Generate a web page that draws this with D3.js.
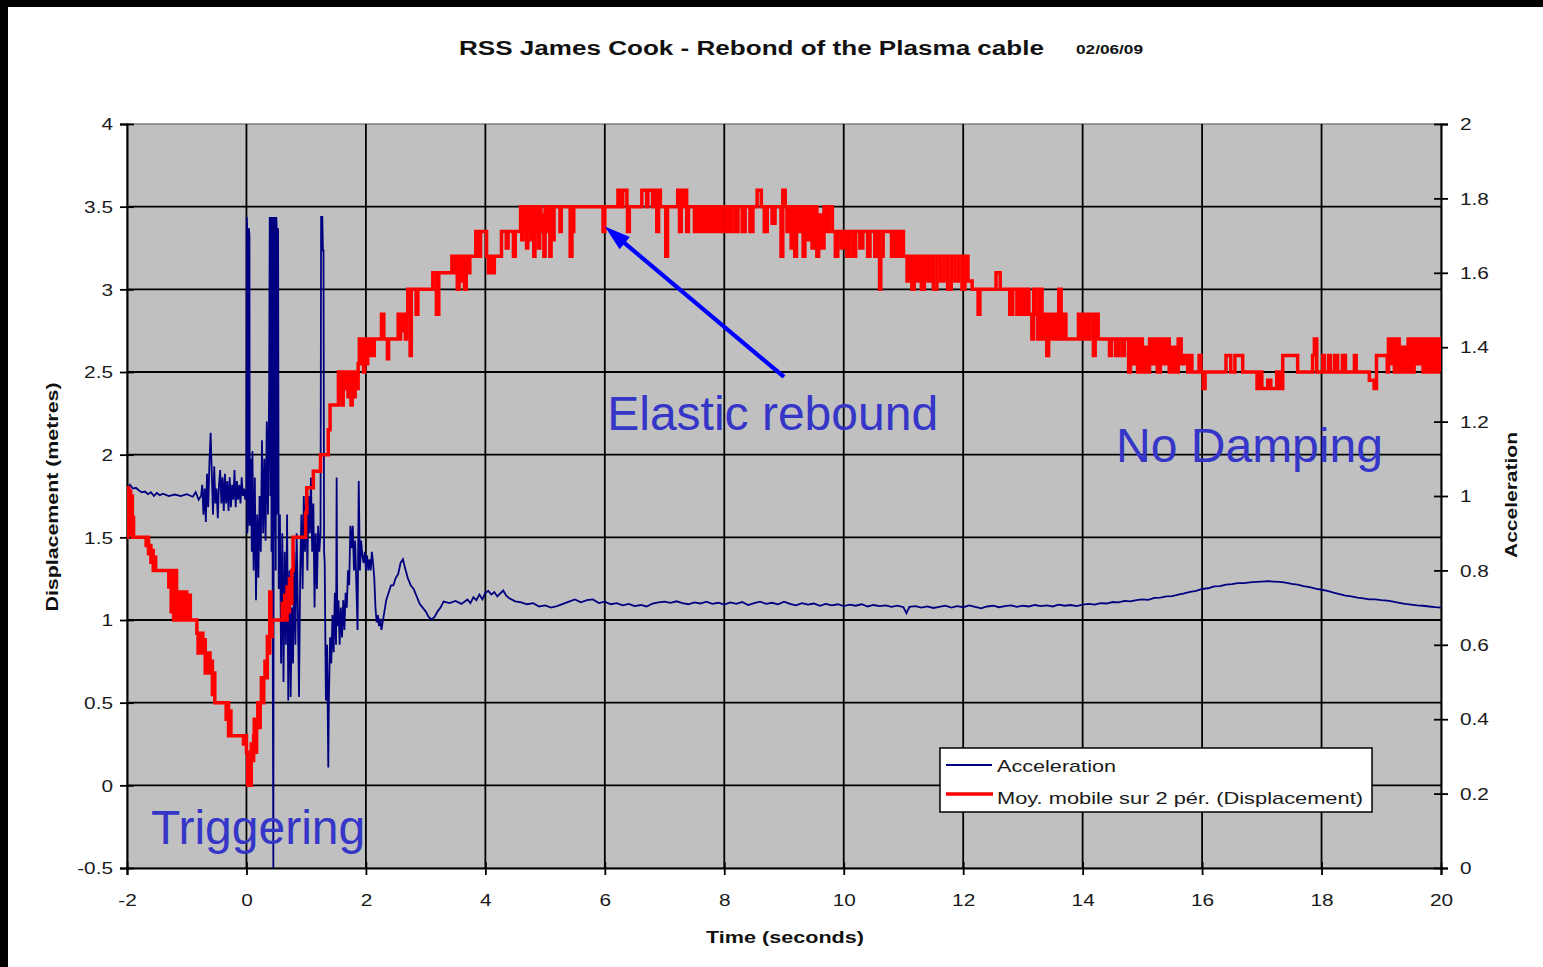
<!DOCTYPE html>
<html>
<head>
<meta charset="utf-8">
<script src="https://cdn.jsdelivr.net/npm/d3@7"></script>
<style>
  html, body { margin: 0; padding: 0; background: #fff; }
  svg { display: block; }
  text { font-family: Arial, "Liberation Sans", sans-serif; }
</style>
</head>
<body>
<svg id="chart" width="1543" height="967"></svg>
<script>
// ---- axis ticks ----
const timeTicks = [-2, 0, 2, 4, 6, 8, 10, 12, 14, 16, 18, 20];
const dispTicks = [-0.5, 0, 0.5, 1, 1.5, 2, 2.5, 3, 3.5, 4];
const accTicks = [0, 0.2, 0.4, 0.6, 0.8, 1, 1.2, 1.4, 1.6, 1.8, 2];
const accTickLabels = ["0", "0.2", "0.4", "0.6", "0.8", "1", "1.2", "1.4", "1.6", "1.8", "2"];

// ---- acceleration record [time s, acceleration] ----
const acceleration = [
  [-2.00,0.97],[-1.99,1.02],[-1.95,1.03],[-1.90,1.02],[-1.85,1.022],[-1.80,1.015],[-1.75,1.01],[-1.70,1.012],
  [-1.65,1.005],[-1.60,1.01],[-1.55,1.0],[-1.50,1.008],[-1.45,1.002],[-1.40,1.006],[-1.30,1.0],[-1.20,1.004],
  [-1.10,1.0],[-1.00,1.005],[-0.90,0.998],[-0.85,1.01],[-0.80,0.99],[-0.76,1.0],
  [-0.74,1.03],[-0.72,0.95],[-0.70,1.02],[-0.68,0.93],[-0.66,1.06],[-0.64,0.97],[-0.62,1.09],[-0.60,1.17],
  [-0.58,1.06],[-0.56,0.95],[-0.54,1.08],[-0.52,0.98],[-0.50,1.02],[-0.48,0.94],[-0.46,1.03],[-0.44,1.07],
  [-0.42,0.98],[-0.40,1.05],[-0.38,0.96],[-0.36,1.06],[-0.34,0.98],[-0.32,1.04],[-0.30,0.96],[-0.28,1.05],
  [-0.26,0.97],[-0.24,1.03],[-0.22,0.99],[-0.20,1.07],[-0.18,0.97],[-0.16,1.04],[-0.14,0.99],[-0.12,1.03],
  [-0.10,0.98],[-0.08,1.05],[-0.06,1.0],[-0.04,1.02],[-0.02,0.99],[0.00,1.02],
  [0.005,1.75],[0.01,1.73],[0.015,0.90],[0.03,0.95],[0.04,1.72],[0.05,1.70],[0.055,0.92],[0.07,1.10],
  [0.09,0.85],[0.10,1.12],[0.12,0.80],[0.14,1.05],[0.16,0.72],[0.18,0.95],[0.20,0.78],[0.22,1.00],
  [0.24,0.85],[0.26,1.15],[0.28,0.90],[0.30,1.10],[0.32,0.88],[0.34,1.20],[0.36,0.95],[0.38,1.30],
  [0.39,1.75],[0.40,1.00],[0.41,1.75],[0.42,0.85],[0.43,1.75],[0.44,0.60],[0.45,0.00],[0.455,0.80],
  [0.46,1.75],[0.47,0.90],[0.48,1.75],[0.49,0.80],[0.50,1.75],[0.51,1.70],[0.52,0.95],[0.53,1.72],
  [0.54,0.75],[0.56,0.95],[0.58,0.55],[0.60,0.90],[0.62,0.50],[0.64,0.85],[0.66,0.60],[0.68,0.95],
  [0.70,0.45],[0.72,0.80],[0.74,0.46],[0.76,0.70],[0.78,0.55],[0.80,0.85],[0.82,0.60],[0.84,0.90],
  [0.86,0.70],[0.88,0.46],[0.90,0.80],[0.92,0.95],[0.94,0.75],[0.96,1.00],[0.98,0.85],[1.00,1.02],
  [1.02,0.80],[1.04,1.00],[1.06,0.90],[1.08,1.05],[1.10,0.85],[1.12,0.98],[1.14,0.70],[1.16,0.90],
  [1.18,0.75],[1.20,0.92],[1.22,0.85],[1.24,0.90],[1.25,1.75],[1.27,1.75],[1.28,1.66],[1.29,1.66],
  [1.30,0.85],[1.31,0.82],[1.33,0.45],[1.35,0.60],[1.37,0.27],[1.38,0.45],[1.40,0.62],[1.42,0.55],
  [1.44,0.68],[1.46,0.58],[1.48,0.74],[1.50,0.60],[1.51,1.05],[1.52,0.65],[1.54,0.72],[1.56,0.60],
  [1.58,0.70],[1.60,0.62],[1.62,0.72],[1.64,0.64],[1.66,0.74],[1.68,0.70],[1.70,0.80],[1.72,0.76],
  [1.74,0.92],[1.76,0.86],[1.78,0.92],[1.80,0.80],[1.82,0.88],[1.84,0.76],[1.86,0.64],[1.88,1.04],
  [1.90,0.80],[1.92,0.88],[1.94,0.84],[1.96,0.82],[1.98,0.85],[2.00,0.80],[2.02,0.84],[2.04,0.80],
  [2.06,0.83],[2.08,0.80],[2.10,0.85],[2.12,0.82],[2.14,0.78],[2.16,0.70],[2.18,0.66],[2.20,0.68],
  [2.22,0.65],[2.24,0.67],[2.26,0.64],[2.28,0.66],[2.30,0.68],[2.34,0.72],[2.38,0.74],[2.42,0.76],
  [2.46,0.76],[2.50,0.78],[2.54,0.79],[2.58,0.82],[2.62,0.83],[2.65,0.81],[2.70,0.78],[2.75,0.76],
  [2.80,0.75],[2.85,0.73],[2.90,0.71],[2.95,0.70],[3.00,0.69],[3.05,0.675],[3.10,0.668],[3.15,0.675],
  [3.20,0.69],[3.25,0.70],[3.30,0.716],[3.40,0.712],[3.50,0.718],[3.60,0.71],[3.70,0.722],[3.75,0.712],
  [3.80,0.728],[3.85,0.72],[3.90,0.735],[3.95,0.722],[4.00,0.74],[4.05,0.745],[4.10,0.735],[4.15,0.742],
  [4.20,0.73],[4.25,0.738],[4.30,0.746],[4.35,0.732],[4.40,0.725],[4.50,0.717],[4.60,0.714],[4.70,0.709],
  [4.80,0.712],[4.90,0.703],[5.00,0.706],[5.10,0.70],[5.20,0.704],[5.30,0.71],[5.40,0.716],[5.50,0.722],
  [5.60,0.714],[5.70,0.72],[5.80,0.722],[5.90,0.712],[6.00,0.716],[6.10,0.709],[6.20,0.712],[6.30,0.706],
  [6.40,0.71],[6.50,0.704],[6.60,0.707],[6.70,0.703],[6.80,0.711],[6.90,0.714],[7.00,0.716],[7.10,0.713],
  [7.20,0.717],[7.30,0.712],[7.40,0.709],[7.50,0.714],[7.60,0.711],[7.70,0.716],[7.80,0.71],[7.90,0.713],
  [8.00,0.708],[8.10,0.714],[8.20,0.71],[8.30,0.715],[8.40,0.707],[8.50,0.712],[8.60,0.716],[8.70,0.71],
  [8.80,0.713],[8.90,0.709],[9.00,0.716],[9.10,0.71],[9.20,0.706],[9.30,0.712],[9.40,0.708],[9.50,0.711],
  [9.60,0.705],[9.70,0.71],[9.80,0.706],[9.90,0.709],[10.0,0.704],[10.1,0.708],[10.2,0.705],[10.3,0.709],
  [10.4,0.703],[10.5,0.707],[10.6,0.704],[10.7,0.706],[10.8,0.702],[10.9,0.705],[11.0,0.701],[11.05,0.685],
  [11.1,0.702],[11.2,0.704],[11.3,0.70],[11.4,0.703],[11.5,0.699],[11.6,0.702],[11.7,0.705],[11.8,0.70],
  [11.9,0.704],[12.0,0.701],[12.1,0.706],[12.2,0.702],[12.3,0.698],[12.4,0.703],[12.5,0.705],[12.6,0.701],
  [12.7,0.704],[12.8,0.706],[12.9,0.702],[13.0,0.705],[13.1,0.703],[13.2,0.707],[13.3,0.704],[13.4,0.706],
  [13.5,0.703],[13.6,0.708],[13.7,0.705],[13.8,0.707],[13.9,0.704],[14.0,0.708],[14.1,0.71],[14.2,0.708],
  [14.3,0.712],[14.4,0.711],[14.5,0.715],[14.6,0.714],[14.7,0.718],[14.8,0.717],[14.9,0.72],[15.0,0.722],
  [15.1,0.721],[15.2,0.726],[15.3,0.727],[15.4,0.73],[15.5,0.731],[15.6,0.735],[15.7,0.738],[15.8,0.742],
  [15.9,0.745],[16.0,0.75],[16.1,0.752],[16.2,0.757],[16.3,0.758],[16.4,0.762],[16.5,0.763],[16.6,0.766],
  [16.7,0.766],[16.8,0.768],[16.9,0.769],[17.0,0.77],[17.1,0.771],[17.2,0.77],[17.3,0.769],[17.4,0.767],
  [17.5,0.764],[17.6,0.762],[17.7,0.758],[17.8,0.755],[17.9,0.751],[18.0,0.748],[18.1,0.745],[18.2,0.74],
  [18.3,0.736],[18.4,0.732],[18.5,0.73],[18.6,0.727],[18.7,0.725],[18.8,0.722],[18.9,0.722],[19.0,0.72],
  [19.1,0.719],[19.2,0.716],[19.3,0.713],[19.4,0.71],[19.5,0.708],[19.6,0.706],[19.7,0.705],[19.8,0.703],
  [19.9,0.701],[20.0,0.70]
];

// ---- displacement, 2-period moving average [time s, metres]; value holds until next point ----
const displacement = [
  [-2.00,1.50],[-1.99,1.80],[-1.97,1.55],[-1.96,1.78],[-1.94,1.52],[-1.93,1.75],[-1.91,1.50],[-1.90,1.62],[-1.89,1.50],
  [-1.68,1.45],[-1.66,1.50],[-1.64,1.40],[-1.62,1.45],[-1.60,1.35],[-1.58,1.42],[-1.56,1.30],[-1.54,1.38],[-1.52,1.30],
  [-1.30,1.20],[-1.28,1.30],[-1.26,1.05],[-1.24,1.30],[-1.22,1.00],[-1.20,1.30],[-1.17,1.00],[-1.15,1.17],
  [-1.12,1.00],[-1.10,1.17],[-1.07,1.00],[-1.03,1.17],[-1.00,1.00],[-0.97,1.15],[-0.94,1.00],
  [-0.83,0.92],[-0.81,0.80],[-0.79,0.92],[-0.77,0.80],[-0.75,0.92],[-0.73,0.80],[-0.71,0.88],[-0.69,0.68],
  [-0.67,0.80],[-0.65,0.68],[-0.63,0.80],[-0.61,0.68],[-0.59,0.75],[-0.57,0.55],[-0.55,0.68],[-0.53,0.50],
  [-0.34,0.40],[-0.32,0.50],[-0.30,0.30],[-0.28,0.45],[-0.26,0.30],
  [-0.05,0.25],[-0.02,0.30],[0.00,0.20],[0.02,0.00],[0.04,0.15],[0.06,0.00],[0.08,0.25],[0.10,0.15],[0.12,0.30],
  [0.13,0.40],[0.15,0.20],[0.17,0.35],[0.19,0.50],[0.21,0.35],[0.23,0.50],[0.25,0.65],[0.27,0.50],
  [0.29,0.65],[0.31,0.75],[0.33,0.65],[0.35,0.90],[0.37,0.80],[0.39,1.17],[0.41,0.90],[0.43,1.00],
  [0.60,1.10],[0.62,1.00],[0.64,1.15],[0.66,1.00],[0.68,1.20],[0.70,1.05],[0.72,1.25],[0.74,1.10],[0.76,1.30],[0.78,1.50],
  [0.99,1.65],[1.01,1.80],[1.12,1.90],[1.24,2.00],[1.37,2.15],[1.40,2.30],
  [1.54,2.50],[1.56,2.35],[1.58,2.50],[1.60,2.30],[1.62,2.50],[1.65,2.40],[1.67,2.50],[1.70,2.35],
  [1.72,2.50],[1.75,2.30],[1.77,2.50],[1.80,2.35],[1.82,2.50],[1.85,2.40],
  [1.87,2.55],[1.89,2.70],[1.91,2.55],[1.94,2.70],[1.96,2.50],[1.98,2.70],[2.01,2.55],[2.03,2.70],
  [2.06,2.60],[2.08,2.70],[2.12,2.60],[2.14,2.70],[2.26,2.85],[2.30,2.70],[2.36,2.58],[2.38,2.70],
  [2.54,2.85],[2.56,2.70],[2.58,2.85],[2.61,2.75],[2.63,2.85],[2.66,2.70],[2.68,2.85],[2.70,3.00],
  [2.74,2.60],[2.76,3.00],[2.84,2.85],[2.87,3.00],[3.12,3.10],[3.18,2.85],[3.22,3.10],
  [3.44,3.20],[3.47,3.10],[3.50,3.20],[3.53,3.00],[3.56,3.20],[3.59,3.05],[3.62,3.20],[3.65,3.00],
  [3.68,3.20],[3.71,3.10],[3.74,3.20],[3.84,3.35],[3.88,3.20],[3.92,3.35],[4.02,3.20],[4.05,3.10],
  [4.08,3.20],[4.12,3.10],[4.15,3.20],[4.27,3.35],[4.35,3.25],[4.38,3.35],[4.47,3.20],[4.50,3.35],
  [4.59,3.50],[4.61,3.30],[4.63,3.50],[4.65,3.35],[4.67,3.50],[4.69,3.25],[4.71,3.50],[4.73,3.35],
  [4.75,3.50],[4.77,3.30],[4.79,3.50],[4.81,3.20],[4.83,3.50],[4.85,3.35],[4.87,3.50],[4.89,3.25],
  [4.91,3.50],[4.93,3.35],[4.95,3.45],[4.98,3.20],[5.00,3.50],[5.03,3.35],[5.05,3.50],[5.08,3.20],
  [5.10,3.50],[5.13,3.30],[5.15,3.50],[5.25,3.35],[5.27,3.50],[5.42,3.20],[5.45,3.35],[5.48,3.50],
  [5.97,3.35],[6.00,3.50],[6.22,3.60],[6.27,3.50],[6.30,3.60],[6.37,3.50],[6.38,3.35],[6.41,3.50],
  [6.62,3.60],[6.70,3.50],[6.72,3.60],[6.80,3.50],[6.83,3.60],[6.87,3.35],[6.90,3.60],[6.93,3.50],
  [7.02,3.20],[7.05,3.50],[7.22,3.60],[7.25,3.35],[7.28,3.60],[7.31,3.50],[7.34,3.60],[7.37,3.35],
  [7.40,3.50],[7.50,3.35],[7.53,3.50],[7.56,3.35],[7.60,3.50],[7.65,3.35],[7.68,3.50],[7.72,3.35],
  [7.75,3.50],[7.80,3.35],[7.83,3.50],[7.88,3.35],[7.92,3.50],[7.97,3.35],[8.03,3.50],[8.08,3.35],
  [8.12,3.50],[8.18,3.35],[8.23,3.50],[8.30,3.35],[8.35,3.50],[8.43,3.35],[8.48,3.50],[8.55,3.60],
  [8.62,3.50],[8.67,3.35],[8.72,3.50],[8.80,3.40],[8.85,3.50],[8.95,3.20],[8.98,3.60],[9.02,3.50],
  [9.05,3.35],[9.08,3.50],[9.12,3.25],[9.15,3.50],[9.18,3.20],[9.21,3.50],[9.25,3.35],[9.28,3.50],
  [9.32,3.20],[9.35,3.50],[9.40,3.30],[9.43,3.50],[9.47,3.25],[9.50,3.50],[9.55,3.20],[9.58,3.45],
  [9.62,3.25],[9.67,3.50],[9.70,3.35],[9.75,3.50],[9.81,3.35],
  [9.86,3.20],[9.90,3.35],[9.96,3.25],[10.00,3.35],[10.05,3.20],[10.10,3.35],[10.16,3.20],[10.20,3.35],
  [10.27,3.25],[10.32,3.35],[10.40,3.20],[10.44,3.35],[10.52,3.20],[10.56,3.35],[10.60,3.00],[10.62,3.20],
  [10.66,3.35],[10.80,3.20],[10.85,3.35],[10.90,3.20],[10.95,3.35],[11.00,3.20],
  [11.06,3.05],[11.10,3.20],[11.14,3.00],[11.18,3.20],[11.22,3.05],[11.26,3.20],[11.30,3.00],[11.35,3.20],
  [11.40,3.05],[11.45,3.20],[11.50,3.00],[11.56,3.20],[11.62,3.05],[11.68,3.20],[11.74,3.00],[11.80,3.20],
  [11.86,3.05],[11.92,3.20],[11.98,3.00],[12.03,3.20],[12.08,3.05],[12.15,3.00],[12.25,2.85],[12.28,3.00],
  [12.55,3.10],[12.62,3.00],[12.78,2.85],[12.83,3.00],[12.90,2.85],[12.95,3.00],[13.00,2.85],[13.05,3.00],
  [13.10,2.85],[13.15,2.70],[13.18,3.00],[13.22,2.85],[13.25,2.70],[13.28,3.00],[13.32,2.70],[13.36,2.85],
  [13.40,2.60],[13.43,2.85],[13.47,2.70],[13.50,2.85],[13.55,2.70],[13.60,3.00],[13.64,2.70],[13.68,2.85],
  [13.72,2.70],[13.93,2.85],[13.98,2.70],[14.02,2.85],[14.07,2.70],[14.12,2.85],[14.18,2.60],[14.21,2.85],
  [14.26,2.70],[14.45,2.60],[14.48,2.70],[14.55,2.60],[14.60,2.70],[14.66,2.60],[14.70,2.70],
  [14.77,2.50],[14.80,2.70],[14.84,2.55],[14.88,2.70],[14.92,2.50],[14.96,2.70],[15.00,2.50],[15.04,2.65],
  [15.08,2.50],[15.12,2.70],[15.16,2.55],[15.20,2.70],[15.25,2.50],[15.30,2.70],[15.35,2.55],[15.40,2.70],
  [15.45,2.50],[15.50,2.65],[15.55,2.50],[15.60,2.70],[15.65,2.55],[15.70,2.60],[15.76,2.50],[15.80,2.60],
  [15.83,2.50],[15.95,2.60],[15.98,2.50],[16.02,2.40],[16.05,2.50],[16.40,2.60],[16.48,2.50],[16.55,2.60],
  [16.68,2.50],[16.92,2.40],[16.96,2.50],[17.00,2.40],[17.10,2.45],[17.15,2.40],[17.25,2.50],[17.30,2.40],
  [17.35,2.60],[17.60,2.50],[17.85,2.60],[17.88,2.70],[17.92,2.50],[18.02,2.60],[18.05,2.50],[18.12,2.60],
  [18.15,2.50],[18.22,2.60],[18.27,2.50],[18.35,2.60],[18.40,2.50],[18.55,2.60],[18.58,2.50],[18.80,2.45],
  [18.88,2.40],[18.92,2.60],[19.10,2.50],[19.12,2.70],[19.15,2.55],[19.18,2.70],[19.22,2.50],[19.26,2.70],
  [19.30,2.50],[19.35,2.65],[19.40,2.50],[19.45,2.70],[19.50,2.50],[19.55,2.70],[19.60,2.55],[19.65,2.70],
  [19.70,2.50],[19.75,2.70],[19.80,2.50],[19.85,2.70],[19.90,2.50],[19.95,2.70],[20.00,2.50]
];

// ---- annotations ----
const notes = [
  { text: "Elastic rebound", t: 6.04, d: 2.149 },
  { text: "No Damping", t: 14.56, d: 1.956 },
  { text: "Triggering", t: -1.6, d: -0.355 }
];
const arrowFrom = [9.0, 2.47];
const arrowTo = [6.0, 3.38];

const svg = d3.select("#chart");
const W = 1543, H = 967;
const plot = { left: 127, right: 1441, top: 124, bottom: 868 };

const x = d3.scaleLinear().domain([-2, 20]).range([plot.left, plot.right]);
const yL = d3.scaleLinear().domain([-0.5, 4]).range([plot.bottom, plot.top]);
const yR = d3.scaleLinear().domain([0, 2]).range([plot.bottom, plot.top]);

// stretch text horizontally by factor k along its own baseline
function stretch(sel, k) {
  sel.each(function () {
    const w = this.getComputedTextLength();
    d3.select(this).attr("textLength", w * k).attr("lengthAdjust", "spacingAndGlyphs");
  });
}
function fitTo(sel, len) {
  sel.attr("textLength", len).attr("lengthAdjust", "spacingAndGlyphs");
}

svg.append("rect").attr("width", W).attr("height", H).attr("fill", "#fff");
// dark frame strips
svg.append("rect").attr("x", 0).attr("y", 0).attr("width", W).attr("height", 7).attr("fill", "#000");
svg.append("rect").attr("x", 0).attr("y", 0).attr("width", 8).attr("height", H).attr("fill", "#000");

// plot area
svg.append("rect")
  .attr("x", plot.left).attr("y", plot.top)
  .attr("width", plot.right - plot.left).attr("height", plot.bottom - plot.top)
  .attr("fill", "#c0c0c0").attr("stroke", "#808080").attr("stroke-width", 1.5);

// gridlines
const grid = svg.append("g").attr("stroke", "#000").attr("stroke-width", 1.8);
grid.selectAll("line.v").data(timeTicks.slice(1, -1)).join("line")
  .attr("x1", d => x(d)).attr("x2", d => x(d)).attr("y1", plot.top).attr("y2", plot.bottom);
grid.selectAll("line.h").data(dispTicks.slice(1, -1)).join("line")
  .attr("x1", plot.left).attr("x2", plot.right).attr("y1", d => yL(d)).attr("y2", d => yL(d));

// axes
const tickFont = 16, tickStretch = 1.3;
const axL = svg.append("g").attr("transform", `translate(${plot.left},0)`)
  .call(d3.axisLeft(yL).tickValues(dispTicks).tickFormat(d => String(d)).tickSizeOuter(0).tickSize(7));
const axR = svg.append("g").attr("transform", `translate(${plot.right},0)`)
  .call(d3.axisRight(yR).tickValues(accTicks).tickFormat((d, i) => accTickLabels[i]).tickSizeOuter(0).tickSize(7));
const axB = svg.append("g").attr("transform", `translate(0,${plot.bottom})`)
  .call(d3.axisBottom(x).tickValues(timeTicks).tickFormat(d => String(d)).tickSizeOuter(0).tickSize(7));

[axL, axR, axB].forEach(a => {
  a.select(".domain").attr("stroke", "#000").attr("stroke-width", 2);
  a.selectAll(".tick line").attr("stroke", "#000").attr("stroke-width", 1.8);
  a.selectAll(".tick text").attr("fill", "#1a1a1a").attr("font-size", tickFont)
    .attr("font-family", "Arial, 'Liberation Sans', sans-serif");
});
axL.selectAll(".tick line").attr("x1", 7).attr("x2", -7);
axL.selectAll(".tick text").attr("x", -14).attr("dy", "0.36em");
axR.selectAll(".tick line").attr("x1", -7).attr("x2", 7);
axR.selectAll(".tick text").attr("x", 19).attr("dy", "0.36em");
axB.selectAll(".tick line").attr("y1", -6).attr("y2", 7);
axB.selectAll(".tick text").attr("y", 38).attr("dy", null);
[axL, axR, axB].forEach(a => stretch(a.selectAll(".tick text"), tickStretch));

// series
svg.append("clipPath").attr("id", "plotclip").append("rect")
  .attr("x", plot.left).attr("y", plot.top - 2)
  .attr("width", plot.right - plot.left).attr("height", plot.bottom - plot.top + 4);

const series = svg.append("g").attr("clip-path", "url(#plotclip)");
series.append("path").datum(acceleration)
  .attr("fill", "none").attr("stroke", "#000080").attr("stroke-width", 1.8)
  .attr("d", d3.line().x(d => x(d[0])).y(d => yR(d[1])));
series.append("path").datum(displacement)
  .attr("fill", "none").attr("stroke", "#ff0000").attr("stroke-width", 3.5)
  .attr("d", d3.line().curve(d3.curveStepAfter).x(d => x(d[0])).y(d => yL(d[1])));

// title
svg.append("text").attr("x", 751.5).attr("y", 55).attr("text-anchor", "middle")
  .attr("font-weight", "bold").attr("font-size", 20).attr("fill", "#111")
  .text("RSS James Cook - Rebond of the Plasma cable").call(fitTo, 585);
svg.append("text").attr("x", 1076).attr("y", 54)
  .attr("font-weight", "bold").attr("font-size", 12).attr("fill", "#111")
  .text("02/06/09").call(fitTo, 67);

// axis titles
svg.append("text").attr("x", 785).attr("y", 943).attr("text-anchor", "middle")
  .attr("font-weight", "bold").attr("font-size", 16).attr("fill", "#111")
  .text("Time (seconds)").call(fitTo, 158);
svg.append("text").attr("transform", "translate(58,497) rotate(-90)").attr("text-anchor", "middle")
  .attr("font-weight", "bold").attr("font-size", 16).attr("fill", "#111")
  .text("Displacement (metres)").call(fitTo, 229);
svg.append("text").attr("transform", "translate(1517,495) rotate(-90)").attr("text-anchor", "middle")
  .attr("font-weight", "bold").attr("font-size", 16).attr("fill", "#111")
  .text("Acceleration").call(fitTo, 126);

// callout arrow
const ax0 = x(arrowFrom[0]), ay0 = yL(arrowFrom[1]);
const ax1 = x(arrowTo[0]), ay1 = yL(arrowTo[1]);
const ang = Math.atan2(ay1 - ay0, ax1 - ax0);
const headLen = 26, headHalf = 8;
const bx = ax1 - headLen * Math.cos(ang), by = ay1 - headLen * Math.sin(ang);
svg.append("line").attr("x1", ax0).attr("y1", ay0).attr("x2", bx + 4 * Math.cos(ang)).attr("y2", by + 4 * Math.sin(ang))
  .attr("stroke", "#0000ff").attr("stroke-width", 4.2);
svg.append("path")
  .attr("d", `M${ax1},${ay1} L${bx - headHalf * Math.sin(ang)},${by + headHalf * Math.cos(ang)} L${bx + headHalf * Math.sin(ang)},${by - headHalf * Math.cos(ang)} Z`)
  .attr("fill", "#0000ff");

// annotation labels
svg.selectAll("text.note").data(notes).join("text").attr("class", "note")
  .attr("x", d => x(d.t)).attr("y", d => yL(d.d))
  .attr("font-size", 48).attr("fill", "#3535c8")
  .text(d => d.text);

// legend
const lg = svg.append("g");
lg.append("rect").attr("x", 940).attr("y", 748).attr("width", 432).attr("height", 64)
  .attr("fill", "#fff").attr("stroke", "#000").attr("stroke-width", 1.5);
lg.append("line").attr("x1", 946).attr("x2", 992).attr("y1", 765).attr("y2", 765)
  .attr("stroke", "#000080").attr("stroke-width", 1.8);
lg.append("line").attr("x1", 946).attr("x2", 993).attr("y1", 794).attr("y2", 794)
  .attr("stroke", "#ff0000").attr("stroke-width", 3.5);
lg.append("text").attr("x", 997).attr("y", 772).attr("font-size", 17).attr("fill", "#1a1a1a")
  .text("Acceleration").call(fitTo, 119);
lg.append("text").attr("x", 997).attr("y", 804).attr("font-size", 17).attr("fill", "#1a1a1a")
  .text("Moy. mobile sur 2 pér. (Displacement)").call(fitTo, 366);
</script>
</body>
</html>
